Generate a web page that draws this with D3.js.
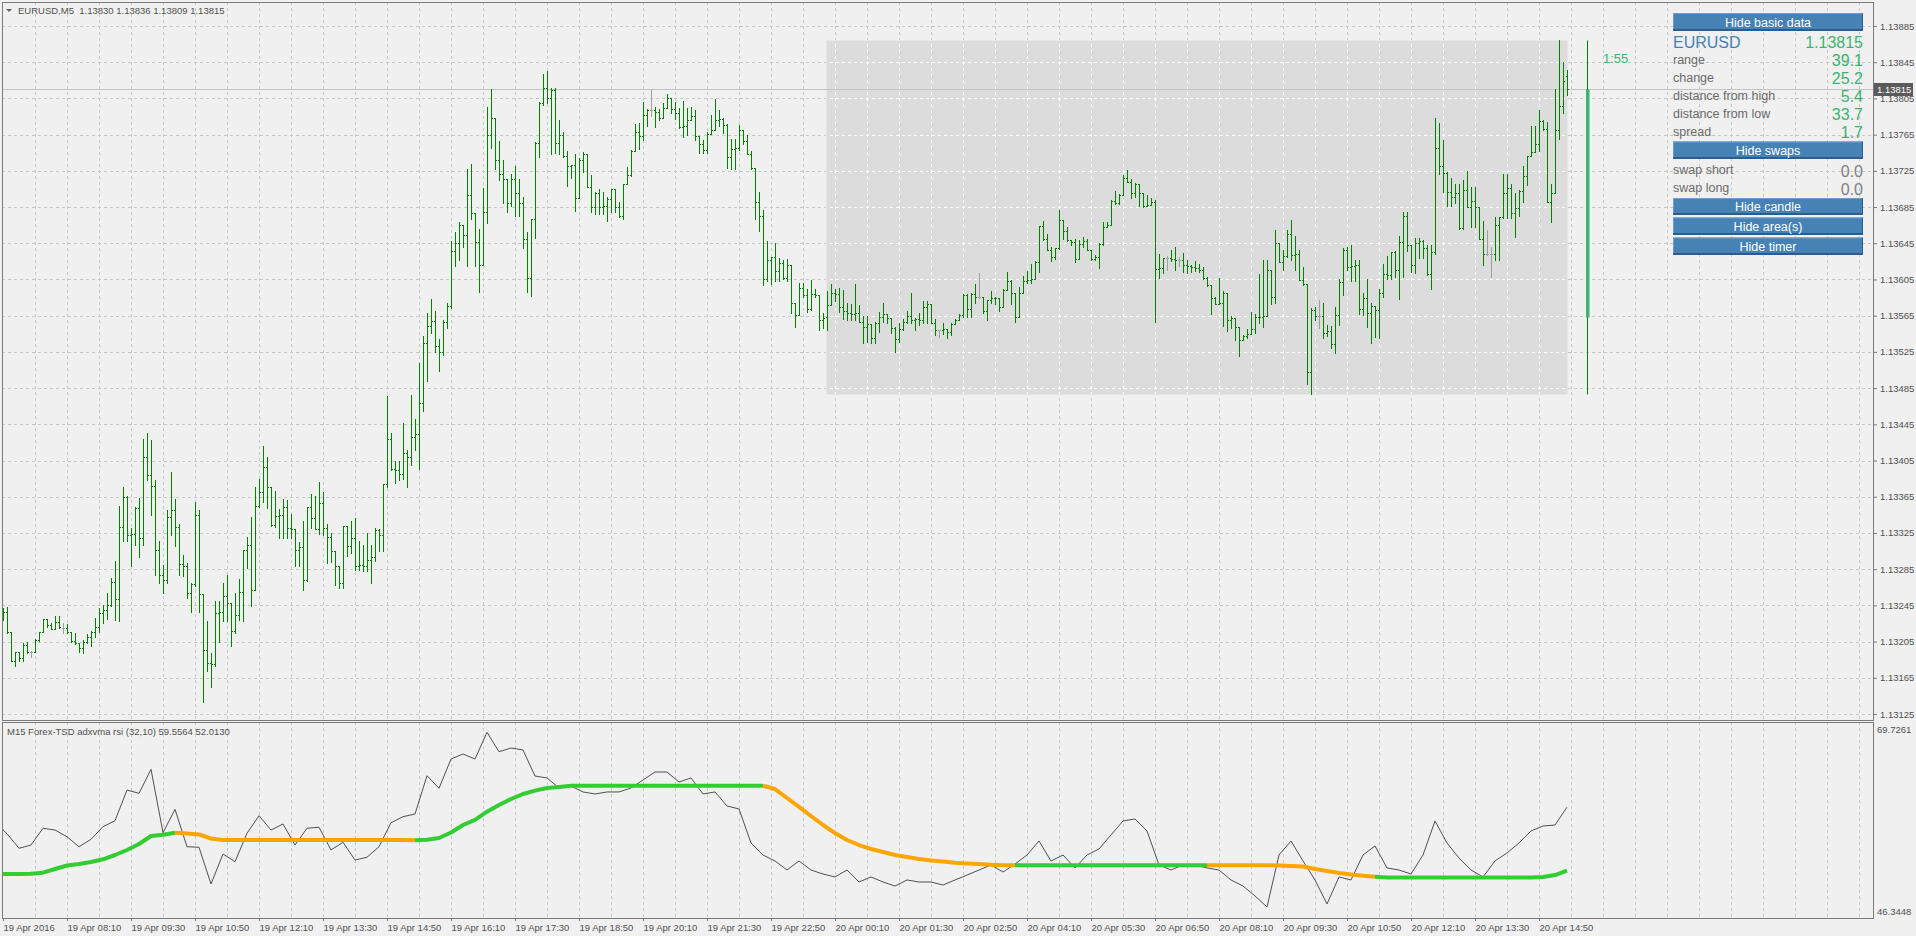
<!DOCTYPE html>
<html><head><meta charset="utf-8"><title>EURUSD,M5</title>
<script src="https://cdnjs.cloudflare.com/ajax/libs/d3/7.8.5/d3.min.js"></script>
<style>
html,body{margin:0;padding:0;background:#f0f0f0;overflow:hidden;}
svg{display:block;}
</style></head><body>
<svg id="chart" width="1916" height="936"></svg>
<script>
// ---------------- DATA ----------------
const symbolTitle = "EURUSD,M5";
const xTickLabels = ["19 Apr 2016","19 Apr 08:10","19 Apr 09:30","19 Apr 10:50","19 Apr 12:10","19 Apr 13:30","19 Apr 14:50","19 Apr 16:10","19 Apr 17:30","19 Apr 18:50","19 Apr 20:10","19 Apr 21:30","19 Apr 22:50","20 Apr 00:10","20 Apr 01:30","20 Apr 02:50","20 Apr 04:10","20 Apr 05:30","20 Apr 06:50","20 Apr 08:10","20 Apr 09:30","20 Apr 10:50","20 Apr 12:10","20 Apr 13:30","20 Apr 14:50"];
const priceTicks = [1.13125,1.13165,1.13205,1.13245,1.13285,1.13325,1.13365,1.13405,1.13445,1.13485,1.13525,1.13565,1.13605,1.13645,1.13685,1.13725,1.13765,1.13805,1.13845,1.13885];

const opens = [
1.13232,1.13238,1.13216,1.13184,1.13193,1.13187,1.13201,1.13193,1.13193,1.13207,
1.13216,1.13230,1.13223,1.13219,1.13227,1.13220,1.13220,1.13216,1.13206,1.13203,
1.13198,1.13205,1.13210,1.13216,1.13221,1.13237,1.13240,1.13245,1.13271,1.13252,
1.13332,1.13365,1.13323,1.13324,1.13353,1.13319,1.13409,1.13389,1.13377,1.13306,
1.13278,1.13273,1.13343,1.13350,1.13332,1.13291,1.13289,1.13259,1.13269,1.13345,
1.13258,1.13196,1.13181,1.13180,1.13237,1.13238,1.13255,1.13248,1.13217,1.13234,
1.13260,1.13306,1.13312,1.13262,1.13355,1.13370,1.13398,1.13376,1.13334,1.13344,
1.13345,1.13354,1.13331,1.13329,1.13306,1.13310,1.13273,1.13354,1.13341,1.13329,
1.13358,1.13330,1.13320,1.13305,1.13289,1.13270,1.13333,1.13311,1.13319,1.13288,
1.13290,1.13288,1.13295,1.13298,1.13328,1.13323,1.13379,1.13429,1.13396,1.13394,
1.13390,1.13413,1.13409,1.13431,1.13434,1.13468,1.13535,1.13554,1.13559,1.13531,
1.13525,1.13558,1.13576,1.13637,1.13645,1.13665,1.13654,1.13698,1.13678,1.13646,
1.13621,1.13679,1.13765,1.13783,1.13737,1.13721,1.13716,1.13690,1.13716,1.13700,
1.13690,1.13650,1.13607,1.13672,1.13756,1.13800,1.13817,1.13805,1.13814,1.13756,
1.13765,1.13741,1.13730,1.13731,1.13695,1.13737,1.13744,1.13707,1.13685,1.13700,
1.13685,1.13686,1.13694,1.13705,1.13685,1.13675,1.13710,1.13720,1.13747,1.13768,
1.13763,1.13787,1.13792,1.13792,1.13790,1.13783,1.13794,1.13805,1.13793,1.13789,
1.13773,1.13774,1.13781,1.13786,1.13764,1.13755,1.13748,1.13766,1.13770,1.13781,
1.13782,1.13776,1.13740,1.13749,1.13750,1.13770,1.13758,1.13744,1.13728,1.13691,
1.13675,1.13605,1.13627,1.13630,1.13614,1.13623,1.13607,1.13621,1.13579,1.13566,
1.13596,1.13588,1.13572,1.13589,1.13588,1.13560,1.13563,1.13577,1.13590,1.13589,
1.13575,1.13570,1.13568,1.13567,1.13568,1.13558,1.13552,1.13556,1.13540,1.13557,
1.13563,1.13567,1.13562,1.13551,1.13539,1.13550,1.13558,1.13565,1.13560,1.13561,
1.13560,1.13575,1.13578,1.13557,1.13549,1.13549,1.13550,1.13547,1.13556,1.13560,
1.13566,1.13588,1.13572,1.13589,1.13586,1.13586,1.13570,1.13582,1.13584,1.13585,
1.13575,1.13593,1.13603,1.13590,1.13564,1.13590,1.13603,1.13604,1.13606,1.13624,
1.13664,1.13650,1.13638,1.13630,1.13640,1.13671,1.13659,1.13649,1.13646,1.13628,
1.13644,1.13647,1.13638,1.13628,1.13630,1.13644,1.13663,1.13665,1.13692,1.13690,
1.13698,1.13717,1.13713,1.13700,1.13710,1.13700,1.13686,1.13687,1.13691,1.13617,
1.13618,1.13629,1.13629,1.13628,1.13627,1.13627,1.13621,1.13620,1.13619,1.13618,
1.13615,1.13607,1.13599,1.13585,1.13578,1.13579,1.13590,1.13560,1.13562,1.13552,
1.13538,1.13543,1.13545,1.13550,1.13564,1.13563,1.13565,1.13616,1.13586,1.13645,
1.13624,1.13631,1.13655,1.13632,1.13633,1.13604,1.13600,1.13503,1.13571,1.13565,
1.13565,1.13546,1.13548,1.13534,1.13566,1.13602,1.13638,1.13619,1.13620,1.13621,
1.13572,1.13584,1.13568,1.13576,1.13571,1.13590,1.13611,1.13610,1.13635,1.13616,
1.13646,1.13675,1.13643,1.13621,1.13645,1.13647,1.13640,1.13611,1.13635,1.13750,
1.13730,1.13723,1.13702,1.13696,1.13700,1.13662,1.13704,1.13685,1.13692,1.13685,
1.13650,1.13633,1.13633,1.13633,1.13665,1.13674,1.13700,1.13706,1.13678,1.13684,
1.13703,1.13719,1.13741,1.13746,1.13755,1.13780,1.13771,1.13691,1.13700,1.13770,
1.13797,1.13830];

const highs = [
1.13242,1.13243,1.13216,1.13193,1.13193,1.13203,1.13205,1.13195,1.13208,1.13216,
1.13230,1.13230,1.13225,1.13233,1.13233,1.13225,1.13224,1.13216,1.13214,1.13203,
1.13207,1.13213,1.13217,1.13231,1.13242,1.13245,1.13259,1.13275,1.13294,1.13355,
1.13376,1.13366,1.13330,1.13354,1.13364,1.13429,1.13435,1.13428,1.13384,1.13316,
1.13290,1.13350,1.13392,1.13362,1.13335,1.13301,1.13292,1.13270,1.13359,1.13350,
1.13258,1.13228,1.13192,1.13250,1.13250,1.13270,1.13278,1.13248,1.13259,1.13274,
1.13306,1.13320,1.13343,1.13376,1.13385,1.13421,1.13409,1.13376,1.13371,1.13351,
1.13363,1.13361,1.13346,1.13329,1.13315,1.13338,1.13354,1.13368,1.13366,1.13381,
1.13370,1.13335,1.13325,1.13305,1.13289,1.13333,1.13333,1.13338,1.13341,1.13316,
1.13312,1.13325,1.13312,1.13330,1.13329,1.13379,1.13476,1.13435,1.13405,1.13405,
1.13446,1.13417,1.13477,1.13451,1.13513,1.13543,1.13568,1.13583,1.13570,1.13539,
1.13560,1.13579,1.13647,1.13657,1.13668,1.13665,1.13727,1.13733,1.13678,1.13661,
1.13706,1.13795,1.13815,1.13783,1.13758,1.13737,1.13716,1.13721,1.13730,1.13716,
1.13696,1.13657,1.13672,1.13757,1.13801,1.13832,1.13835,1.13816,1.13816,1.13781,
1.13768,1.13747,1.13732,1.13744,1.13739,1.13746,1.13744,1.13720,1.13702,1.13705,
1.13702,1.13696,1.13705,1.13705,1.13691,1.13711,1.13729,1.13748,1.13777,1.13778,
1.13801,1.13793,1.13815,1.13796,1.13793,1.13800,1.13810,1.13805,1.13801,1.13794,
1.13802,1.13794,1.13796,1.13792,1.13764,1.13759,1.13768,1.13787,1.13804,1.13792,
1.13783,1.13777,1.13760,1.13760,1.13776,1.13770,1.13765,1.13747,1.13728,1.13702,
1.13682,1.13648,1.13630,1.13645,1.13629,1.13626,1.13628,1.13621,1.13579,1.13601,
1.13601,1.13595,1.13604,1.13595,1.13588,1.13568,1.13592,1.13600,1.13595,1.13596,
1.13593,1.13579,1.13578,1.13600,1.13577,1.13565,1.13565,1.13556,1.13558,1.13569,
1.13579,1.13567,1.13562,1.13553,1.13557,1.13561,1.13570,1.13590,1.13562,1.13568,
1.13581,1.13581,1.13578,1.13561,1.13549,1.13557,1.13550,1.13557,1.13561,1.13567,
1.13589,1.13589,1.13590,1.13600,1.13612,1.13586,1.13582,1.13592,1.13586,1.13585,
1.13595,1.13613,1.13604,1.13590,1.13597,1.13609,1.13614,1.13622,1.13625,1.13664,
1.13670,1.13655,1.13641,1.13640,1.13682,1.13671,1.13663,1.13649,1.13650,1.13649,
1.13652,1.13650,1.13638,1.13632,1.13645,1.13669,1.13668,1.13693,1.13703,1.13699,
1.13720,1.13726,1.13716,1.13712,1.13711,1.13700,1.13698,1.13695,1.13693,1.13633,
1.13628,1.13631,1.13638,1.13641,1.13630,1.13634,1.13626,1.13621,1.13625,1.13622,
1.13619,1.13608,1.13599,1.13586,1.13607,1.13592,1.13590,1.13565,1.13562,1.13552,
1.13544,1.13550,1.13569,1.13567,1.13611,1.13627,1.13627,1.13616,1.13660,1.13645,
1.13638,1.13660,1.13671,1.13653,1.13638,1.13619,1.13600,1.13573,1.13575,1.13582,
1.13579,1.13555,1.13554,1.13575,1.13606,1.13640,1.13641,1.13643,1.13626,1.13626,
1.13590,1.13606,1.13579,1.13576,1.13595,1.13622,1.13631,1.13635,1.13636,1.13653,
1.13680,1.13680,1.13643,1.13651,1.13651,1.13649,1.13643,1.13643,1.13783,1.13778,
1.13759,1.13724,1.13717,1.13711,1.13710,1.13715,1.13725,1.13707,1.13707,1.13685,
1.13670,1.13660,1.13641,1.13674,1.13674,1.13722,1.13722,1.13711,1.13700,1.13704,
1.13730,1.13741,1.13774,1.13774,1.13792,1.13781,1.13779,1.13711,1.13815,1.13869,
1.13845,1.13836];

const lows = [
1.13229,1.13215,1.13183,1.13178,1.13183,1.13183,1.13192,1.13188,1.13193,1.13206,
1.13216,1.13221,1.13219,1.13219,1.13220,1.13214,1.13214,1.13205,1.13202,1.13193,
1.13192,1.13203,1.13200,1.13210,1.13216,1.13226,1.13230,1.13244,1.13229,1.13228,
1.13316,1.13316,1.13289,1.13312,1.13298,1.13312,1.13384,1.13345,1.13278,1.13270,
1.13259,1.13270,1.13323,1.13311,1.13279,1.13277,1.13253,1.13238,1.13266,1.13238,
1.13138,1.13172,1.13155,1.13178,1.13204,1.13228,1.13228,1.13200,1.13214,1.13229,
1.13228,1.13286,1.13244,1.13262,1.13354,1.13359,1.13353,1.13333,1.13332,1.13319,
1.13319,1.13319,1.13319,1.13288,1.13289,1.13262,1.13272,1.13331,1.13329,1.13324,
1.13323,1.13292,1.13293,1.13267,1.13264,1.13264,1.13300,1.13303,1.13284,1.13284,
1.13283,1.13283,1.13270,1.13294,1.13305,1.13305,1.13376,1.13394,1.13380,1.13383,
1.13385,1.13376,1.13400,1.13417,1.13396,1.13460,1.13493,1.13546,1.13525,1.13504,
1.13522,1.13551,1.13573,1.13620,1.13627,1.13641,1.13620,1.13672,1.13620,1.13591,
1.13621,1.13667,1.13750,1.13727,1.13715,1.13689,1.13679,1.13686,1.13675,1.13675,
1.13640,1.13591,1.13587,1.13651,1.13740,1.13798,1.13800,1.13744,1.13745,1.13744,
1.13740,1.13708,1.13717,1.13681,1.13695,1.13724,1.13707,1.13680,1.13677,1.13677,
1.13677,1.13670,1.13680,1.13680,1.13674,1.13672,1.13710,1.13719,1.13747,1.13749,
1.13759,1.13775,1.13786,1.13773,1.13781,1.13783,1.13794,1.13789,1.13782,1.13772,
1.13762,1.13765,1.13781,1.13759,1.13745,1.13745,1.13745,1.13766,1.13770,1.13775,
1.13767,1.13728,1.13727,1.13727,1.13748,1.13755,1.13744,1.13727,1.13672,1.13659,
1.13599,1.13603,1.13600,1.13603,1.13603,1.13606,1.13603,1.13568,1.13552,1.13566,
1.13586,1.13569,1.13571,1.13586,1.13549,1.13551,1.13549,1.13577,1.13581,1.13569,
1.13561,1.13560,1.13560,1.13560,1.13558,1.13535,1.13536,1.13535,1.13535,1.13547,
1.13558,1.13557,1.13546,1.13525,1.13536,1.13549,1.13557,1.13557,1.13549,1.13555,
1.13557,1.13557,1.13557,1.13544,1.13541,1.13545,1.13540,1.13544,1.13556,1.13560,
1.13564,1.13563,1.13563,1.13579,1.13584,1.13568,1.13560,1.13579,1.13578,1.13570,
1.13575,1.13593,1.13578,1.13558,1.13564,1.13590,1.13601,1.13601,1.13606,1.13613,
1.13649,1.13638,1.13625,1.13628,1.13639,1.13650,1.13647,1.13643,1.13624,1.13628,
1.13641,1.13638,1.13627,1.13627,1.13618,1.13643,1.13663,1.13665,1.13688,1.13688,
1.13698,1.13713,1.13695,1.13696,1.13686,1.13685,1.13686,1.13687,1.13558,1.13607,
1.13612,1.13616,1.13625,1.13615,1.13620,1.13613,1.13612,1.13613,1.13614,1.13613,
1.13606,1.13598,1.13567,1.13578,1.13578,1.13554,1.13548,1.13551,1.13538,1.13520,
1.13538,1.13540,1.13545,1.13546,1.13557,1.13553,1.13565,1.13578,1.13579,1.13624,
1.13616,1.13630,1.13626,1.13616,1.13604,1.13599,1.13489,1.13478,1.13560,1.13551,
1.13540,1.13543,1.13529,1.13524,1.13555,1.13588,1.13616,1.13603,1.13603,1.13567,
1.13566,1.13553,1.13535,1.13542,1.13540,1.13586,1.13606,1.13605,1.13608,1.13583,
1.13608,1.13636,1.13613,1.13612,1.13629,1.13629,1.13610,1.13594,1.13633,1.13722,
1.13702,1.13686,1.13686,1.13689,1.13661,1.13661,1.13685,1.13663,1.13663,1.13650,
1.13621,1.13632,1.13608,1.13627,1.13627,1.13673,1.13673,1.13673,1.13652,1.13675,
1.13691,1.13709,1.13741,1.13746,1.13747,1.13770,1.13691,1.13669,1.13700,1.13760,
1.13789,1.13809];

const closes = [
1.13238,1.13216,1.13184,1.13193,1.13187,1.13201,1.13193,1.13193,1.13207,1.13216,
1.13230,1.13223,1.13219,1.13227,1.13221,1.13220,1.13216,1.13206,1.13203,1.13198,
1.13205,1.13210,1.13216,1.13221,1.13237,1.13240,1.13245,1.13271,1.13252,1.13332,
1.13365,1.13323,1.13324,1.13353,1.13319,1.13409,1.13389,1.13377,1.13306,1.13278,
1.13273,1.13343,1.13350,1.13332,1.13291,1.13289,1.13259,1.13269,1.13345,1.13258,
1.13196,1.13181,1.13180,1.13237,1.13238,1.13255,1.13248,1.13217,1.13234,1.13260,
1.13306,1.13312,1.13262,1.13355,1.13370,1.13398,1.13376,1.13334,1.13344,1.13345,
1.13354,1.13331,1.13329,1.13306,1.13310,1.13273,1.13354,1.13341,1.13329,1.13358,
1.13330,1.13320,1.13305,1.13289,1.13270,1.13333,1.13311,1.13319,1.13288,1.13290,
1.13288,1.13295,1.13298,1.13328,1.13323,1.13379,1.13429,1.13396,1.13394,1.13390,
1.13413,1.13409,1.13431,1.13434,1.13468,1.13535,1.13554,1.13559,1.13531,1.13525,
1.13558,1.13576,1.13637,1.13645,1.13665,1.13654,1.13698,1.13678,1.13646,1.13621,
1.13679,1.13765,1.13783,1.13737,1.13721,1.13716,1.13690,1.13716,1.13700,1.13690,
1.13650,1.13607,1.13672,1.13756,1.13800,1.13817,1.13805,1.13814,1.13756,1.13765,
1.13741,1.13730,1.13731,1.13695,1.13737,1.13744,1.13707,1.13685,1.13700,1.13685,
1.13686,1.13694,1.13705,1.13685,1.13675,1.13710,1.13720,1.13747,1.13768,1.13763,
1.13787,1.13792,1.13792,1.13790,1.13783,1.13794,1.13805,1.13793,1.13789,1.13773,
1.13774,1.13781,1.13786,1.13764,1.13755,1.13748,1.13766,1.13770,1.13781,1.13782,
1.13776,1.13740,1.13749,1.13750,1.13770,1.13758,1.13744,1.13728,1.13691,1.13675,
1.13605,1.13627,1.13630,1.13614,1.13623,1.13607,1.13621,1.13579,1.13566,1.13596,
1.13588,1.13572,1.13589,1.13588,1.13560,1.13562,1.13577,1.13590,1.13589,1.13575,
1.13570,1.13568,1.13567,1.13568,1.13558,1.13552,1.13556,1.13540,1.13557,1.13563,
1.13567,1.13562,1.13551,1.13539,1.13550,1.13558,1.13565,1.13560,1.13561,1.13560,
1.13575,1.13578,1.13557,1.13549,1.13549,1.13550,1.13547,1.13556,1.13560,1.13566,
1.13588,1.13572,1.13589,1.13586,1.13586,1.13570,1.13582,1.13584,1.13585,1.13575,
1.13593,1.13603,1.13590,1.13564,1.13590,1.13603,1.13604,1.13606,1.13624,1.13664,
1.13650,1.13638,1.13630,1.13640,1.13671,1.13659,1.13649,1.13646,1.13628,1.13644,
1.13647,1.13638,1.13628,1.13630,1.13644,1.13663,1.13665,1.13692,1.13690,1.13698,
1.13717,1.13713,1.13700,1.13710,1.13700,1.13686,1.13687,1.13691,1.13617,1.13618,
1.13629,1.13629,1.13628,1.13627,1.13627,1.13621,1.13620,1.13619,1.13618,1.13615,
1.13607,1.13599,1.13585,1.13578,1.13579,1.13590,1.13560,1.13562,1.13552,1.13538,
1.13543,1.13545,1.13550,1.13564,1.13563,1.13565,1.13616,1.13586,1.13645,1.13624,
1.13631,1.13655,1.13632,1.13633,1.13604,1.13600,1.13503,1.13571,1.13565,1.13565,
1.13546,1.13548,1.13534,1.13566,1.13602,1.13638,1.13619,1.13620,1.13621,1.13572,
1.13584,1.13568,1.13576,1.13571,1.13590,1.13611,1.13610,1.13635,1.13616,1.13646,
1.13675,1.13643,1.13621,1.13645,1.13647,1.13640,1.13611,1.13635,1.13750,1.13730,
1.13723,1.13702,1.13696,1.13700,1.13662,1.13704,1.13685,1.13692,1.13685,1.13650,
1.13633,1.13633,1.13633,1.13665,1.13674,1.13700,1.13706,1.13678,1.13684,1.13703,
1.13719,1.13741,1.13746,1.13755,1.13780,1.13771,1.13691,1.13700,1.13770,1.13797,
1.13824,1.13815];

// M15 indicator values (one per 15-minute bar, drawn at the last 5-minute bar of each period)
const subScale = [46.3448, 69.7261];
const rsiValues = [
57.80,56.40,54.66,55.05,57.05,56.84,56.04,54.85,55.73,57.24,
57.95,61.61,61.22,64.08,56.52,59.31,54.85,54.78,50.40,53.98,
53.06,56.45,58.55,56.84,57.56,55.05,57.05,57.17,54.46,55.38,
53.26,53.59,54.85,57.71,58.43,58.75,63.32,61.82,65.31,65.91,
65.31,68.50,66.18,66.62,66.39,63.28,63.05,61.85,62.09,61.38,
61.14,61.38,61.38,61.85,62.81,63.76,63.76,62.57,63.05,61.14,
61.38,59.71,59.35,55.29,53.86,53.15,52.07,53.15,52.07,51.59,
51.24,52.07,50.64,51.24,50.64,50.16,50.88,50.64,50.64,50.28,
50.88,51.47,52.07,52.67,51.83,52.79,53.86,55.53,53.15,53.86,
52.31,53.86,54.58,56.25,57.92,58.16,56.73,52.67,52.07,52.67,
52.67,52.31,52.07,50.88,50.16,48.97,47.66,53.86,55.53,53.15,
50.88,48.02,51.24,50.88,53.86,54.94,52.31,52.07,51.59,53.86,
57.92,55.29,53.50,52.07,51.24,53.15,54.10,55.29,56.73,57.32,
57.44,59.56];
const adxValues = [
51.59,51.59,51.59,51.62,51.75,52.19,52.61,52.79,53.03,53.35,
53.86,54.46,55.17,56.13,56.28,56.52,56.42,56.31,55.83,55.65,
55.65,55.65,55.65,55.65,55.65,55.65,55.65,55.65,55.65,55.65,
55.65,55.65,55.65,55.65,55.65,55.61,55.67,55.89,56.54,57.44,
58.04,59.03,59.83,60.54,61.14,61.54,61.85,61.97,62.12,62.12,
62.12,62.12,62.12,62.12,62.12,62.12,62.12,62.12,62.12,62.12,
62.12,62.12,62.12,62.12,62.12,61.73,60.66,59.59,58.51,57.44,
56.48,55.65,55.05,54.58,54.22,53.86,53.62,53.38,53.20,53.08,
52.94,52.85,52.79,52.70,52.65,52.65,52.65,52.65,52.65,52.65,
52.65,52.65,52.65,52.65,52.65,52.65,52.65,52.65,52.65,52.65,
52.65,52.65,52.65,52.65,52.65,52.65,52.65,52.61,52.55,52.49,
52.19,51.95,51.71,51.53,51.39,51.26,51.19,51.19,51.19,51.19,
51.19,51.19,51.19,51.19,51.19,51.19,51.19,51.19,51.19,51.23,
51.47,52.01];
const adxTrend = [
1,1,1,1,1,1,1,1,1,1,
1,1,1,1,1,1,-1,-1,-1,-1,
-1,-1,-1,-1,-1,-1,-1,-1,-1,-1,
-1,-1,-1,-1,-1,-1,1,1,1,1,
1,1,1,1,1,1,1,1,1,1,
1,1,1,1,1,1,1,1,1,1,
1,1,1,1,1,-1,-1,-1,-1,-1,
-1,-1,-1,-1,-1,-1,-1,-1,-1,-1,
-1,-1,-1,-1,-1,-1,1,1,1,1,
1,1,1,1,1,1,1,1,1,1,
1,1,-1,-1,-1,-1,-1,-1,-1,-1,
-1,-1,-1,-1,-1,-1,1,1,1,1,
1,1,1,1,1,1,1,1,1,1,
1,1];
const subTitle = "M15 Forex-TSD adxvma rsi (32,10) 59.5564 52.0130";

const dayStartBar = 206;            // first bar of 20 Apr (00:00)
const infoSymbol = "EURUSD";
const statLabels = ["range","change","distance from high","distance from low","spread"];
const statValues = ["39.1","25.2","5.4","33.7","1.7"];
const swapLabels = ["swap short","swap long"];
const swapValues = ["0.0","0.0"];
const buttonLabels = ["Hide basic data","Hide swaps","Hide candle","Hide area(s)","Hide timer"];
const timerText = "1:55";

// ---------------- DRAWING ----------------
const FONT = '"Liberation Sans", Arial, sans-serif';
const GREEN = '#008000', DOJI = '#a0a0a0';
const svg = d3.select('#chart');
svg.append('rect').attr('width',1916).attr('height',936).attr('fill','#f0f0f0');

const nBars = closes.length;
const x = d3.scaleLinear().domain([0, nBars - 1]).range([3, 1567]);
const y = d3.scaleLinear().domain([priceTicks[0], priceTicks[priceTicks.length - 1]]).range([714, 26]);
const ys = d3.scaleLinear().domain(subScale).range([918, 722]);

const main = {l:2, r:1873, t:2, b:720};
const sub  = {l:2, r:1873, t:722, b:918};
const defs = svg.append('defs');
function addClip(id, r) {
  defs.append('clipPath').attr('id', id).append('rect')
    .attr('x', r.l + 1).attr('y', r.t + 1).attr('width', r.r - r.l - 1).attr('height', r.b - r.t - 1);
}
addClip('cMain', main); addClip('cSub', sub);

const dayHigh = d3.max(highs.slice(dayStartBar));
const dayLow = d3.min(lows.slice(dayStartBar));
const dayOpen = opens[dayStartBar];
const lastClose = closes[nBars - 1];

const area = {l: x(dayStartBar) - 0.5, r: x(nBars - 1) + 0.5, t: y(dayHigh), b: y(dayLow)};
defs.append('clipPath').attr('id','cArea').append('rect')
  .attr('x', area.l).attr('y', area.t).attr('width', area.r - area.l).attr('height', area.b - area.t);

const gMain = svg.append('g').attr('clip-path','url(#cMain)');
const gSub = svg.append('g').attr('clip-path','url(#cSub)');

// day area rectangle
gMain.append('rect').attr('x', area.l).attr('y', area.t).attr('width', area.r - area.l)
  .attr('height', area.b - area.t).attr('fill', '#dcdcdc');

// grid
const gridBars = d3.range(8, nBars + 100, 8).filter(i => x(i) < main.r - 4);
function drawGrid(g, panel, color, withH) {
  g.selectAll(null).data(gridBars).enter().append('line')
    .attr('x1', d => Math.round(x(d)) + 0.5).attr('x2', d => Math.round(x(d)) + 0.5)
    .attr('y1', panel.t).attr('y2', panel.b)
    .attr('stroke', color).attr('stroke-dasharray', '3,3');
  if (withH) {
    g.selectAll(null).data(priceTicks).enter().append('line')
      .attr('x1', panel.l).attr('x2', panel.r)
      .attr('y1', d => Math.round(y(d)) + 0.5).attr('y2', d => Math.round(y(d)) + 0.5)
      .attr('stroke', color).attr('stroke-dasharray', '3,3');
  }
}
drawGrid(gMain, main, '#c8c8c8', true);
drawGrid(gMain.append('g').attr('clip-path','url(#cArea)'), main, '#ffffff', true);
drawGrid(gSub, sub, '#c8c8c8', false);

// bid line
gMain.append('line').attr('x1', main.l).attr('x2', main.r)
  .attr('y1', Math.round(y(lastClose)) + 0.5).attr('y2', Math.round(y(lastClose)) + 0.5)
  .attr('stroke', '#c4c4c4');

// OHLC bars
const gBars = gMain.append('g').attr('shape-rendering', 'crispEdges');
const bars = d3.range(nBars).map(i => ({i, o: opens[i], h: highs[i], l: lows[i], c: closes[i]}));
const bg = gBars.selectAll('g.bar').data(bars).enter().append('g')
  .attr('fill', d => d.o === d.c ? DOJI : GREEN);
bg.append('rect')
  .attr('x', d => Math.round(x(d.i))).attr('width', 1)
  .attr('y', d => Math.round(y(Math.max(d.h, d.o, d.c))))
  .attr('height', d => Math.max(1, Math.round(y(Math.min(d.l, d.o, d.c))) - Math.round(y(Math.max(d.h, d.o, d.c))) + 1));
bg.append('rect')
  .attr('x', d => Math.round(x(d.i)) - 1).attr('width', 1)
  .attr('y', d => Math.round(y(d.o))).attr('height', 1);
bg.append('rect')
  .attr('x', d => Math.round(x(d.i)) + 1).attr('width', 1)
  .attr('y', d => Math.round(y(d.c))).attr('height', 1);

// daily candle (drawn 5 bars to the right of the last bar)
const candleX = Math.round(x(nBars - 1 + 5));
gMain.append('rect').attr('x', candleX).attr('width', 1)
  .attr('y', y(dayHigh)).attr('height', y(dayLow) - y(dayHigh)).attr('fill', GREEN);
gMain.append('rect').attr('x', candleX - 1).attr('width', 3.5)
  .attr('y', y(lastClose)).attr('height', y(dayOpen) - y(lastClose)).attr('fill', '#3cb371');

// timer text
svg.append('text').attr('x', candleX + 16).attr('y', 63).text(timerText)
  .attr('font-family', FONT).attr('font-size', 13).attr('fill', '#3cb371');

// indicator window
const idxOf = j => 3 * j - 2;
gSub.append('path')
  .attr('d', d3.line().x((v, j) => x(idxOf(j))).y(v => ys(v))(rsiValues))
  .attr('fill', 'none').attr('stroke', '#505050').attr('stroke-width', 1);

// adxvma coloured segments
const segs = [];
for (let j = 0; j < adxValues.length - 1; j++) {
  const col = adxTrend[j + 1] > 0 ? '#32cd32' : '#ffa500';
  if (segs.length && segs[segs.length - 1].col === col) segs[segs.length - 1].pts.push(j + 1);
  else segs.push({col, pts: [j, j + 1]});
}
gSub.selectAll(null).data(segs).enter().append('path')
  .attr('d', s => d3.line().x(j => x(idxOf(j))).y(j => ys(adxValues[j]))(s.pts))
  .attr('fill', 'none').attr('stroke', s => s.col).attr('stroke-width', 4)
  .attr('stroke-linejoin', 'round');

// frames
svg.append('rect').attr('x', main.l + 0.5).attr('y', main.t + 0.5).attr('width', main.r - main.l).attr('height', main.b - main.t)
  .attr('fill', 'none').attr('stroke', '#7a7a7a');
svg.append('rect').attr('x', sub.l + 0.5).attr('y', sub.t + 0.5).attr('width', sub.r - sub.l).attr('height', sub.b - sub.t)
  .attr('fill', 'none').attr('stroke', '#7a7a7a');

// price axis
const yAxis = d3.axisRight(y).tickValues(priceTicks).tickFormat(d3.format('.5f'))
  .tickSizeInner(4).tickSizeOuter(0).tickPadding(3);
const gy = svg.append('g').attr('transform', `translate(${main.r},0)`).call(yAxis);
gy.select('.domain').remove();
gy.selectAll('line').attr('stroke', '#7a7a7a');
gy.selectAll('text').attr('font-family', FONT).attr('font-size', 9.5).attr('fill', '#505050');

// bid price label
const bidY = Math.round(y(lastClose));
svg.append('rect').attr('x', main.r + 1).attr('y', bidY - 6).attr('width', 39).attr('height', 13).attr('fill', '#5a5a5a');
svg.append('text').attr('x', main.r + 4).attr('y', bidY + 4).text(d3.format('.5f')(lastClose))
  .attr('font-family', FONT).attr('font-size', 9.5).attr('fill', '#ffffff');

// sub-window scale labels
svg.append('text').attr('x', main.r + 4).attr('y', sub.t + 11).text(subScale[1].toFixed(4))
  .attr('font-family', FONT).attr('font-size', 9.5).attr('fill', '#505050');
svg.append('text').attr('x', main.r + 4).attr('y', sub.b - 3).text(subScale[0].toFixed(4))
  .attr('font-family', FONT).attr('font-size', 9.5).attr('fill', '#505050');

// time axis
const xAxis = d3.axisBottom(x).tickValues(xTickLabels.map((_, k) => k * 16))
  .tickFormat((d, k) => xTickLabels[k]).tickSizeInner(3).tickSizeOuter(0).tickPadding(3);
const gx = svg.append('g').attr('transform', `translate(0,${sub.b})`).call(xAxis);
gx.select('.domain').remove();
gx.selectAll('line').attr('stroke', '#7a7a7a');
gx.selectAll('text').attr('text-anchor', 'start').attr('x', 0)
  .attr('font-family', FONT).attr('font-size', 9.5).attr('fill', '#505050');

// header
svg.append('path').attr('d', 'M6,9 L12,9 L9,12 Z').attr('fill', '#606060');
svg.append('text').attr('x', 18).attr('y', 14)
  .text(`${symbolTitle}  ${[opens, highs, lows, closes].map(a => d3.format('.5f')(a[nBars - 1])).join(' ')}`)
  .attr('font-family', FONT).attr('font-size', 9.5).attr('fill', '#505050').attr('xml:space', 'preserve')
  .style('white-space', 'pre');
svg.append('text').attr('x', 7).attr('y', 735).text(subTitle)
  .attr('font-family', FONT).attr('font-size', 9.5).attr('fill', '#505050');

// info panel
const pL = 1673, pR = 1863;
const panel = svg.append('g').attr('font-family', FONT);
function button(top, h, label, base) {
  const g = panel.append('g');
  g.append('rect').attr('x', pL).attr('y', top).attr('width', pR - pL).attr('height', h).attr('fill', '#4682b4');
  g.append('rect').attr('x', pL).attr('y', top).attr('width', pR - pL).attr('height', 1).attr('fill', '#6b9fd1');
  g.append('rect').attr('x', pL).attr('y', top).attr('width', 1).attr('height', h).attr('fill', '#6b9fd1');
  g.append('rect').attr('x', pL).attr('y', top + h - 2).attr('width', pR - pL).attr('height', 2).attr('fill', '#2b5d8c');
  g.append('rect').attr('x', pR - 1).attr('y', top).attr('width', 1).attr('height', h).attr('fill', '#2b5d8c');
  g.append('text').attr('x', (pL + pR) / 2).attr('y', base).attr('text-anchor', 'middle')
    .attr('font-size', 12.5).attr('fill', '#ffffff').text(label);
}
const btnLayout = [[13, 18, 27.3], [141.5, 17.5, 155], [198, 17, 211], [217.5, 17.5, 230.5], [237.5, 17.5, 250.7]];
buttonLabels.forEach((b, k) => button(btnLayout[k][0], btnLayout[k][1], b, btnLayout[k][2]));

panel.append('text').attr('x', pL).attr('y', 48.3).text(infoSymbol).attr('font-size', 16).attr('fill', '#4682b4');
panel.append('text').attr('x', pR).attr('y', 48.3).attr('text-anchor', 'end')
  .text(d3.format('.5f')(lastClose)).attr('font-size', 16).attr('fill', '#3cb371');
statLabels.forEach((s, k) => {
  panel.append('text').attr('x', pL).attr('y', 64 + 18 * k).text(s).attr('font-size', 12.5).attr('fill', '#6b6b6b');
  panel.append('text').attr('x', pR).attr('y', 65.8 + 18 * k).attr('text-anchor', 'end')
    .text(statValues[k]).attr('font-size', 16).attr('fill', '#3cb371');
});
swapLabels.forEach((s, k) => {
  panel.append('text').attr('x', pL).attr('y', 174 + 18 * k).text(s).attr('font-size', 12.5).attr('fill', '#6b6b6b');
  panel.append('text').attr('x', pR).attr('y', 176.5 + 18 * k).attr('text-anchor', 'end')
    .text(swapValues[k]).attr('font-size', 16).attr('fill', '#808080');
});
</script>
</body></html>
